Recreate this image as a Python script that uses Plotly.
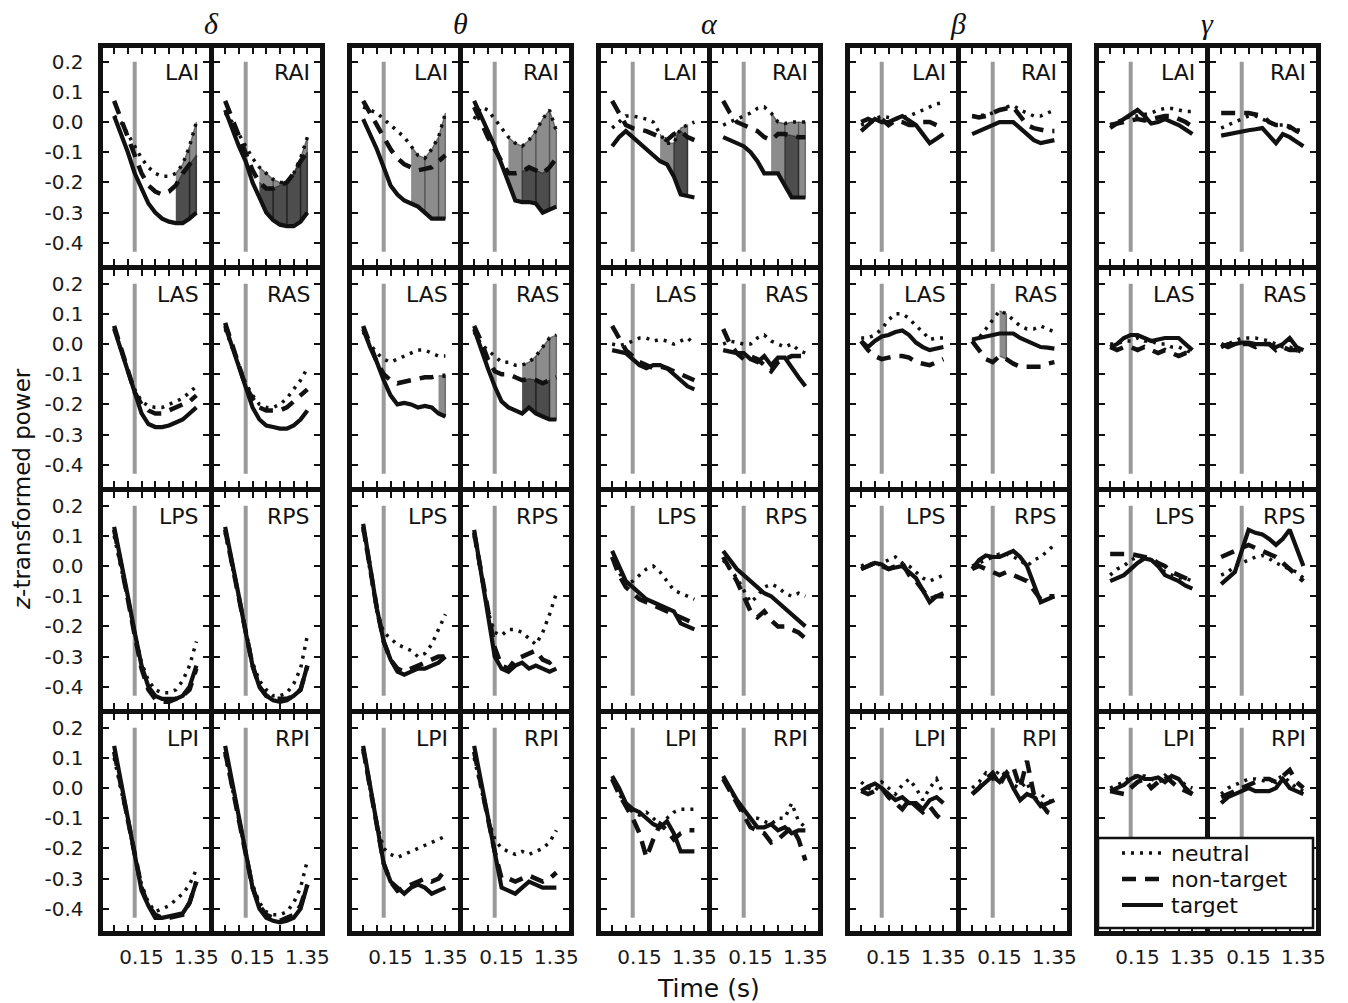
import plotly.graph_objects as go

# ---------------- axes / categories ----------------
TIME = [-0.45, -0.30, -0.15, 0.00, 0.15, 0.30, 0.45, 0.60, 0.75, 0.90, 1.05, 1.20, 1.35]
X_TICKS = [-0.45, -0.15, 0.15, 0.45, 0.75, 1.05, 1.35]
X_TICK_TEXT = ["", "", "0.15", "", "", "", "1.35"]
Y_TICKS = [0.2, 0.1, 0.0, -0.1, -0.2, -0.3, -0.4]
Y_TICK_TEXT = ["0.2", "0.1", "0.0", "-0.1", "-0.2", "-0.3", "-0.4"]
BANDS = ["δ", "θ", "α", "β", "γ"]
REGIONS = ["AI", "AS", "PS", "PI"]
HEMIS = ["L", "R"]
CONDITIONS = ["neutral", "non-target", "target"]
ONSET = 0.0
ONSET_SPAN = [-0.43, 0.2]
X_RANGE = [-0.705, 1.615]
Y_RANGE = [-0.472, 0.247]

# ---------------- delta ----------------
d_LAI_neu = [0.02, 0.00, -0.04, -0.08, -0.12, -0.15, -0.17, -0.18, -0.18, -0.17, -0.14, -0.08, 0.00]
d_LAI_non = [0.07, 0.01, -0.05, -0.12, -0.17, -0.21, -0.23, -0.24, -0.23, -0.21, -0.17, -0.14, -0.11]
d_LAI_tar = [0.02, -0.04, -0.10, -0.17, -0.22, -0.27, -0.30, -0.32, -0.33, -0.335, -0.335, -0.32, -0.30]
d_RAI_neu = [0.03, 0.00, -0.04, -0.08, -0.12, -0.15, -0.17, -0.19, -0.20, -0.20, -0.17, -0.12, -0.05]
d_RAI_non = [0.07, 0.01, -0.05, -0.11, -0.16, -0.20, -0.22, -0.22, -0.21, -0.20, -0.17, -0.13, -0.10]
d_RAI_tar = [0.04, -0.02, -0.08, -0.13, -0.20, -0.25, -0.30, -0.325, -0.34, -0.345, -0.345, -0.33, -0.30]
d_LAS_neu = [0.05, -0.02, -0.09, -0.15, -0.19, -0.205, -0.21, -0.21, -0.20, -0.19, -0.18, -0.16, -0.14]
d_LAS_non = [0.06, -0.01, -0.09, -0.16, -0.20, -0.22, -0.23, -0.23, -0.22, -0.21, -0.20, -0.19, -0.17]
d_LAS_tar = [0.05, -0.02, -0.10, -0.17, -0.23, -0.265, -0.275, -0.275, -0.27, -0.26, -0.25, -0.23, -0.21]
d_RAS_neu = [0.05, -0.01, -0.07, -0.13, -0.17, -0.20, -0.21, -0.21, -0.20, -0.18, -0.15, -0.12, -0.08]
d_RAS_non = [0.07, 0.00, -0.07, -0.14, -0.18, -0.21, -0.22, -0.22, -0.22, -0.21, -0.19, -0.17, -0.15]
d_RAS_tar = [0.06, -0.01, -0.08, -0.15, -0.21, -0.25, -0.27, -0.275, -0.28, -0.28, -0.27, -0.25, -0.22]
d_LPS_neu = [0.10, 0.00, -0.11, -0.22, -0.32, -0.38, -0.41, -0.42, -0.42, -0.41, -0.38, -0.33, -0.25]
d_LPS_non = [0.12, 0.01, -0.11, -0.23, -0.34, -0.41, -0.44, -0.45, -0.45, -0.44, -0.43, -0.41, -0.34]
d_LPS_tar = [0.13, 0.02, -0.10, -0.22, -0.33, -0.40, -0.43, -0.44, -0.44, -0.44, -0.43, -0.40, -0.33]
d_RPS_neu = [0.11, 0.00, -0.11, -0.22, -0.32, -0.38, -0.41, -0.43, -0.43, -0.42, -0.39, -0.34, -0.23]
d_RPS_non = [0.12, 0.01, -0.11, -0.22, -0.33, -0.40, -0.43, -0.44, -0.44, -0.44, -0.43, -0.41, -0.33]
d_RPS_tar = [0.13, 0.02, -0.10, -0.22, -0.33, -0.40, -0.43, -0.445, -0.45, -0.445, -0.43, -0.41, -0.33]
d_LPI_neu = [0.10, 0.00, -0.11, -0.22, -0.32, -0.38, -0.41, -0.40, -0.39, -0.37, -0.35, -0.32, -0.27]
d_LPI_non = [0.12, 0.01, -0.10, -0.22, -0.33, -0.39, -0.42, -0.43, -0.43, -0.425, -0.42, -0.38, -0.31]
d_LPI_tar = [0.14, 0.02, -0.10, -0.22, -0.34, -0.39, -0.43, -0.43, -0.425, -0.42, -0.415, -0.38, -0.31]
d_RPI_neu = [0.11, 0.00, -0.11, -0.22, -0.32, -0.38, -0.41, -0.42, -0.42, -0.41, -0.38, -0.33, -0.24]
d_RPI_non = [0.12, 0.01, -0.10, -0.22, -0.33, -0.39, -0.42, -0.43, -0.44, -0.43, -0.42, -0.39, -0.32]
d_RPI_tar = [0.14, 0.02, -0.10, -0.22, -0.33, -0.40, -0.43, -0.44, -0.445, -0.44, -0.43, -0.40, -0.32]

# ---------------- theta ----------------
t_LAI_neu = [0.05, 0.04, 0.03, 0.01, -0.01, -0.03, -0.05, -0.08, -0.11, -0.12, -0.09, -0.05, 0.03]
t_LAI_non = [0.07, 0.03, -0.01, -0.05, -0.09, -0.12, -0.14, -0.15, -0.16, -0.155, -0.15, -0.13, -0.11]
t_LAI_tar = [0.01, -0.04, -0.09, -0.15, -0.21, -0.24, -0.26, -0.27, -0.28, -0.30, -0.32, -0.32, -0.32]
t_RAI_neu = [0.01, 0.05, 0.04, 0.01, -0.02, -0.05, -0.07, -0.08, -0.06, -0.03, 0.01, 0.04, -0.03]
t_RAI_non = [0.05, 0.00, -0.05, -0.09, -0.13, -0.17, -0.17, -0.165, -0.15, -0.16, -0.17, -0.15, -0.12]
t_RAI_tar = [0.07, 0.02, -0.03, -0.08, -0.14, -0.20, -0.26, -0.265, -0.265, -0.27, -0.30, -0.29, -0.28]
t_LAS_neu = [0.04, 0.00, -0.03, -0.05, -0.06, -0.05, -0.04, -0.03, -0.02, -0.02, -0.03, -0.04, -0.04]
t_LAS_non = [0.06, 0.00, -0.06, -0.10, -0.12, -0.13, -0.125, -0.12, -0.115, -0.11, -0.11, -0.105, -0.105]
t_LAS_tar = [0.05, -0.01, -0.06, -0.12, -0.17, -0.20, -0.195, -0.20, -0.21, -0.205, -0.21, -0.23, -0.24]
t_RAS_neu = [0.04, 0.00, -0.02, -0.04, -0.06, -0.06, -0.07, -0.07, -0.06, -0.04, -0.01, 0.02, 0.03]
t_RAS_non = [0.06, 0.01, -0.05, -0.09, -0.10, -0.10, -0.11, -0.12, -0.115, -0.12, -0.13, -0.12, -0.11]
t_RAS_tar = [0.05, -0.02, -0.08, -0.14, -0.19, -0.21, -0.22, -0.23, -0.21, -0.23, -0.24, -0.25, -0.25]
t_LPS_neu = [0.12, -0.02, -0.15, -0.22, -0.24, -0.26, -0.27, -0.28, -0.30, -0.29, -0.26, -0.21, -0.16]
t_LPS_non = [0.13, -0.01, -0.14, -0.25, -0.31, -0.34, -0.35, -0.34, -0.33, -0.32, -0.31, -0.30, -0.30]
t_LPS_tar = [0.14, 0.00, -0.14, -0.25, -0.31, -0.35, -0.36, -0.35, -0.34, -0.34, -0.33, -0.32, -0.30]
t_RPS_neu = [0.10, -0.03, -0.15, -0.22, -0.23, -0.21, -0.21, -0.22, -0.24, -0.26, -0.22, -0.16, -0.09]
t_RPS_non = [0.11, -0.02, -0.16, -0.27, -0.33, -0.34, -0.31, -0.30, -0.29, -0.28, -0.31, -0.32, -0.30]
t_RPS_tar = [0.12, -0.02, -0.18, -0.30, -0.34, -0.35, -0.33, -0.32, -0.34, -0.33, -0.34, -0.35, -0.34]
t_LPI_neu = [0.12, 0.00, -0.12, -0.20, -0.22, -0.23, -0.22, -0.21, -0.20, -0.19, -0.18, -0.17, -0.16]
t_LPI_non = [0.13, 0.00, -0.13, -0.25, -0.31, -0.34, -0.33, -0.32, -0.31, -0.30, -0.31, -0.30, -0.27]
t_LPI_tar = [0.14, 0.01, -0.12, -0.25, -0.31, -0.33, -0.35, -0.33, -0.32, -0.33, -0.35, -0.34, -0.33]
t_RPI_neu = [0.10, 0.00, -0.10, -0.17, -0.20, -0.21, -0.22, -0.21, -0.22, -0.21, -0.20, -0.18, -0.14]
t_RPI_non = [0.12, 0.01, -0.10, -0.21, -0.30, -0.30, -0.31, -0.30, -0.29, -0.30, -0.31, -0.30, -0.28]
t_RPI_tar = [0.14, 0.02, -0.10, -0.22, -0.33, -0.34, -0.35, -0.33, -0.31, -0.32, -0.33, -0.33, -0.33]

# ---------------- alpha ----------------
a_LAI_neu = [-0.02, 0.00, 0.02, 0.02, 0.015, 0.01, 0.00, -0.04, -0.07, -0.07, -0.02, -0.01, 0.00]
a_LAI_non = [0.07, 0.03, -0.01, -0.02, -0.025, -0.03, -0.04, -0.05, -0.06, -0.04, -0.03, -0.05, -0.06]
a_LAI_tar = [-0.08, -0.05, -0.03, -0.05, -0.07, -0.09, -0.11, -0.13, -0.14, -0.18, -0.24, -0.245, -0.25]
a_RAI_neu = [-0.01, 0.00, 0.01, 0.02, 0.03, 0.045, 0.05, 0.03, 0.00, -0.005, 0.00, 0.00, 0.00]
a_RAI_non = [0.07, 0.03, 0.00, -0.01, -0.02, -0.03, -0.05, -0.06, -0.04, -0.04, -0.045, -0.05, -0.05]
a_RAI_tar = [-0.05, -0.06, -0.07, -0.08, -0.10, -0.13, -0.17, -0.17, -0.17, -0.21, -0.25, -0.25, -0.25]
a_LAS_neu = [0.00, -0.005, 0.00, 0.01, 0.02, 0.02, 0.01, 0.015, 0.01, 0.00, 0.01, 0.02, 0.00]
a_LAS_non = [0.06, 0.02, -0.02, -0.04, -0.06, -0.07, -0.08, -0.075, -0.08, -0.09, -0.10, -0.11, -0.12]
a_LAS_tar = [-0.02, -0.025, -0.03, -0.05, -0.07, -0.08, -0.07, -0.07, -0.08, -0.10, -0.12, -0.14, -0.15]
a_RAS_neu = [0.00, 0.01, 0.005, 0.00, 0.00, 0.02, 0.03, 0.01, 0.00, -0.01, 0.00, -0.02, -0.03]
a_RAS_non = [0.05, 0.00, -0.03, -0.05, -0.04, -0.05, -0.07, -0.09, -0.06, -0.05, -0.04, -0.04, -0.04]
a_RAS_tar = [-0.02, -0.025, -0.03, -0.03, -0.05, -0.06, -0.04, -0.07, -0.045, -0.045, -0.08, -0.11, -0.14]
a_LPS_neu = [0.03, -0.02, -0.06, -0.05, -0.03, -0.01, 0.00, -0.02, -0.05, -0.08, -0.09, -0.10, -0.11]
a_LPS_non = [0.03, -0.03, -0.07, -0.09, -0.11, -0.12, -0.13, -0.14, -0.15, -0.16, -0.17, -0.18, -0.19]
a_LPS_tar = [0.05, 0.00, -0.05, -0.07, -0.09, -0.11, -0.12, -0.13, -0.14, -0.15, -0.19, -0.20, -0.21]
a_RPS_neu = [0.02, -0.01, -0.04, -0.08, -0.12, -0.10, -0.07, -0.06, -0.07, -0.09, -0.10, -0.09, -0.10]
a_RPS_non = [0.03, -0.01, -0.05, -0.10, -0.15, -0.17, -0.15, -0.18, -0.20, -0.20, -0.21, -0.22, -0.24]
a_RPS_tar = [0.05, 0.02, -0.01, -0.03, -0.05, -0.07, -0.09, -0.10, -0.12, -0.14, -0.16, -0.18, -0.20]
a_LPI_neu = [0.03, -0.02, -0.05, -0.08, -0.09, -0.08, -0.10, -0.12, -0.10, -0.08, -0.07, -0.07, -0.07]
a_LPI_non = [0.03, -0.02, -0.06, -0.10, -0.15, -0.23, -0.17, -0.12, -0.14, -0.17, -0.15, -0.14, -0.14]
a_LPI_tar = [0.04, 0.00, -0.05, -0.07, -0.08, -0.10, -0.12, -0.13, -0.11, -0.15, -0.21, -0.21, -0.21]
a_RPI_neu = [0.03, 0.00, -0.05, -0.08, -0.10, -0.10, -0.11, -0.12, -0.10, -0.10, -0.05, -0.11, -0.13]
a_RPI_non = [0.03, -0.01, -0.05, -0.09, -0.13, -0.14, -0.15, -0.18, -0.17, -0.15, -0.13, -0.17, -0.24]
a_RPI_tar = [0.04, 0.00, -0.04, -0.07, -0.10, -0.13, -0.13, -0.12, -0.14, -0.13, -0.15, -0.14, -0.14]

# ---------------- beta ----------------
b_LAI_neu = [-0.01, 0.00, 0.01, 0.02, 0.015, 0.01, 0.015, 0.02, 0.03, 0.04, 0.05, 0.06, 0.065]
b_LAI_non = [0.00, 0.01, 0.00, 0.01, -0.01, 0.005, 0.00, -0.01, -0.01, 0.00, 0.00, -0.01, -0.02]
b_LAI_tar = [-0.03, -0.01, 0.01, 0.00, 0.00, 0.01, 0.02, 0.005, -0.01, -0.04, -0.07, -0.055, -0.04]
b_RAI_neu = [0.02, 0.02, 0.025, 0.03, 0.04, 0.05, 0.055, 0.04, 0.03, 0.02, 0.02, 0.03, 0.04]
b_RAI_non = [0.02, 0.015, 0.02, 0.03, 0.04, 0.045, 0.05, 0.02, -0.01, -0.02, -0.025, -0.03, -0.03]
b_RAI_tar = [-0.04, -0.03, -0.02, -0.01, 0.00, 0.00, 0.00, -0.02, -0.04, -0.06, -0.07, -0.065, -0.06]
b_LAS_neu = [0.02, 0.02, 0.03, 0.05, 0.08, 0.10, 0.10, 0.085, 0.06, 0.04, 0.015, 0.02, 0.02]
b_LAS_non = [0.01, -0.02, -0.04, -0.05, -0.045, -0.04, -0.04, -0.045, -0.06, -0.065, -0.07, -0.06, -0.05]
b_LAS_tar = [0.01, -0.01, 0.01, 0.025, 0.03, 0.04, 0.045, 0.03, 0.005, -0.01, -0.02, -0.015, -0.01]
b_RAS_neu = [0.01, 0.02, 0.05, 0.08, 0.11, 0.10, 0.08, 0.06, 0.05, 0.05, 0.06, 0.05, 0.04]
b_RAS_non = [0.01, -0.02, -0.05, -0.06, -0.04, -0.05, -0.065, -0.075, -0.075, -0.075, -0.075, -0.065, -0.06]
b_RAS_tar = [0.015, 0.02, 0.025, 0.03, 0.035, 0.035, 0.035, 0.02, 0.01, 0.00, -0.01, -0.012, -0.015]
b_LPS_neu = [0.00, 0.01, 0.00, 0.01, 0.02, 0.03, 0.01, 0.00, -0.02, -0.04, -0.05, -0.04, -0.03]
b_LPS_non = [-0.01, 0.00, 0.01, 0.00, -0.01, 0.00, 0.01, -0.03, -0.05, -0.08, -0.11, -0.10, -0.10]
b_LPS_tar = [-0.01, 0.00, 0.01, 0.005, -0.01, -0.005, 0.00, -0.02, -0.04, -0.08, -0.12, -0.10, -0.09]
b_RPS_neu = [0.00, 0.01, 0.02, 0.03, 0.04, 0.04, 0.03, 0.02, 0.00, 0.02, 0.03, 0.05, 0.07]
b_RPS_non = [-0.01, 0.00, -0.01, -0.02, -0.03, -0.02, -0.03, -0.04, -0.05, -0.08, -0.11, -0.10, -0.10]
b_RPS_tar = [-0.01, 0.02, 0.035, 0.03, 0.03, 0.04, 0.05, 0.03, 0.00, -0.06, -0.12, -0.11, -0.10]
b_LPI_neu = [0.02, 0.00, -0.01, 0.02, 0.00, -0.02, 0.01, 0.03, 0.00, -0.04, 0.00, 0.03, -0.02]
b_LPI_non = [-0.01, -0.02, -0.01, 0.00, -0.03, -0.05, -0.07, -0.04, -0.06, -0.08, -0.06, -0.09, -0.11]
b_LPI_tar = [-0.01, 0.005, 0.015, 0.00, -0.02, -0.04, -0.03, -0.05, -0.05, -0.07, -0.04, -0.03, -0.05]
b_RPI_neu = [0.00, 0.02, 0.05, 0.03, 0.06, 0.04, 0.01, 0.00, 0.02, -0.04, -0.02, -0.04, -0.05]
b_RPI_non = [-0.02, 0.00, 0.03, 0.05, 0.01, 0.05, 0.07, 0.00, 0.09, -0.02, -0.05, -0.08, -0.09]
b_RPI_tar = [-0.02, 0.00, 0.02, 0.04, 0.02, 0.05, 0.00, -0.04, -0.02, -0.03, -0.06, -0.05, -0.04]

# ---------------- gamma ----------------
g_LAI_neu = [-0.01, 0.00, 0.01, 0.02, 0.02, 0.025, 0.03, 0.04, 0.045, 0.045, 0.04, 0.035, 0.035]
g_LAI_non = [-0.01, -0.005, 0.00, 0.005, 0.01, 0.005, 0.01, 0.015, 0.02, 0.02, 0.01, 0.00, -0.015]
g_LAI_tar = [-0.02, -0.005, 0.01, 0.025, 0.04, 0.02, -0.005, 0.00, 0.01, 0.00, -0.01, -0.025, -0.04]
g_RAI_neu = [-0.02, -0.01, 0.00, 0.01, 0.02, 0.02, 0.01, 0.00, -0.01, -0.01, -0.02, -0.025, -0.03]
g_RAI_non = [0.03, 0.03, 0.03, 0.03, 0.03, 0.025, 0.02, 0.00, -0.01, -0.01, -0.015, -0.03, -0.04]
g_RAI_tar = [-0.045, -0.04, -0.035, -0.03, -0.027, -0.024, -0.02, -0.045, -0.07, -0.04, -0.05, -0.065, -0.08]
g_LAS_neu = [0.00, 0.00, 0.01, 0.01, 0.02, 0.01, 0.01, 0.00, 0.00, -0.01, -0.01, -0.02, -0.03]
g_LAS_non = [-0.01, -0.02, -0.01, -0.01, -0.02, -0.01, -0.02, -0.03, -0.02, -0.03, -0.04, -0.03, -0.03]
g_LAS_tar = [-0.01, 0.00, 0.02, 0.03, 0.03, 0.02, 0.01, 0.015, 0.02, 0.02, 0.02, 0.00, -0.02]
g_RAS_neu = [-0.01, 0.00, 0.01, 0.02, 0.02, 0.02, 0.015, 0.01, 0.00, -0.01, -0.01, -0.02, -0.03]
g_RAS_non = [0.00, -0.01, 0.00, 0.00, 0.00, -0.01, 0.00, 0.00, -0.02, -0.01, -0.02, -0.02, -0.03]
g_RAS_tar = [-0.01, 0.00, 0.00, 0.005, 0.005, 0.00, 0.00, 0.00, -0.01, 0.00, 0.02, -0.01, -0.02]
g_LPS_neu = [-0.03, -0.01, 0.00, 0.02, 0.03, 0.03, 0.02, 0.00, -0.02, -0.03, -0.04, -0.04, -0.05]
g_LPS_non = [0.04, 0.04, 0.04, 0.04, 0.035, 0.03, 0.025, 0.01, 0.00, -0.02, -0.03, -0.04, -0.05]
g_LPS_tar = [-0.05, -0.04, -0.03, -0.01, 0.01, 0.025, 0.02, 0.00, -0.03, -0.04, -0.05, -0.065, -0.075]
g_RPS_neu = [-0.03, -0.02, 0.00, 0.01, 0.02, 0.03, 0.035, 0.025, 0.01, 0.00, -0.01, -0.02, -0.04]
g_RPS_non = [0.03, 0.04, 0.05, 0.06, 0.07, 0.06, 0.05, 0.04, 0.03, 0.01, -0.01, -0.03, -0.05]
g_RPS_tar = [-0.06, -0.04, -0.02, 0.05, 0.12, 0.11, 0.105, 0.09, 0.07, 0.09, 0.12, 0.06, 0.00]
g_LPI_neu = [0.00, 0.01, 0.02, 0.04, 0.04, 0.04, 0.03, 0.02, 0.03, 0.04, 0.03, 0.01, 0.00]
g_LPI_non = [-0.01, -0.015, -0.02, 0.00, 0.02, 0.03, 0.00, 0.02, 0.04, 0.02, 0.00, -0.01, -0.02]
g_LPI_tar = [-0.01, 0.00, 0.01, 0.03, 0.04, 0.03, 0.03, 0.035, 0.02, 0.04, 0.03, 0.00, -0.02]
g_RPI_neu = [-0.02, 0.00, 0.01, 0.02, 0.03, 0.03, 0.025, 0.02, 0.03, 0.04, 0.02, 0.00, -0.01]
g_RPI_non = [-0.03, -0.02, -0.01, 0.00, 0.01, 0.02, 0.03, 0.03, 0.02, 0.04, 0.06, 0.02, 0.00]
g_RPI_tar = [-0.05, -0.03, -0.02, -0.01, 0.00, -0.01, -0.01, -0.01, 0.00, 0.03, 0.00, -0.01, -0.02]

# significant windows (index ranges into TIME) for pairwise comparisons
SIG = {
    ("δ", "LAI"): [("neutral", "target", [(9, 11), (11, 12)]), ("non-target", "target", [(9, 11), (11, 12)])],
    ("δ", "RAI"): [("neutral", "target", [(5, 7), (7, 9), (9, 11), (11, 12)]),
                   ("non-target", "target", [(5, 7), (7, 9), (9, 11), (11, 12)])],
    ("θ", "LAI"): [("neutral", "target", [(7, 9), (9, 11), (11, 12)])],
    ("θ", "RAI"): [("neutral", "target", [(5, 7), (7, 9), (9, 11), (11, 12)]),
                   ("non-target", "target", [(7, 9), (9, 11)])],
    ("θ", "LAS"): [("non-target", "target", [(11, 12)])],
    ("θ", "RAS"): [("neutral", "target", [(7, 9), (9, 11), (11, 12)]),
                   ("non-target", "target", [(7, 9), (9, 11)])],
    ("α", "LAI"): [("neutral", "target", [(7, 9), (9, 11)]), ("non-target", "target", [(9, 11)])],
    ("α", "RAI"): [("neutral", "target", [(7, 9), (9, 11), (11, 12)]), ("non-target", "target", [(9, 11)])],
    ("β", "RAS"): [("neutral", "non-target", [(4, 5)])],
}

PREFIX = {"δ": "d", "θ": "t", "α": "a", "β": "b", "γ": "g"}
G = globals()


def series(band, label, cond):
    suf = {"neutral": "neu", "non-target": "non", "target": "tar"}[cond]
    return G[f"{PREFIX[band]}_{label}_{suf}"]


# ---------------- figure geometry ----------------
# the page body has an 8px margin, so the figure is 8px smaller than the window
PAGE_OFF = 8
W, H = 1348 - PAGE_OFF, 1003 - PAGE_OFF
PLOT_LEFT, PLOT_TOP, PLOT_RIGHT, PLOT_BOTTOM = 100, 45, 1318, 933   # in window pixels
ML, MT = PLOT_LEFT - PAGE_OFF, PLOT_TOP - PAGE_OFF
MR, MB = 1348 - PLOT_RIGHT, 1003 - PLOT_BOTTOM
PW = PLOT_RIGHT - PLOT_LEFT
PH = PLOT_BOTTOM - PLOT_TOP
SPINE = 5                 # spine width; plotly draws it just outside the data area
PANEL_STEP = 111          # spine-to-spine width of one panel
PAIR_STEP = 249
ROW_STEP = 222

# legend box geometry (window pixels)
LEG_BOX = (1098, 838, 1313, 928)
LEG_ROW_Y = [853, 879, 905]
LEG_SAMPLE_X = (1122, 1163)
LEG_TEXT_X = 1169


def px_x(px):
    return (px - PLOT_LEFT) / PW


def px_y(py):
    return (PLOT_BOTTOM - py) / PH


STYLE = {
    "neutral": dict(color="#111111", width=3.5, dash="3px,6px"),
    "non-target": dict(color="#111111", width=4.5, dash="14px,9px"),
    "target": dict(color="#111111", width=4.2, dash="solid"),
}
FONT = "DejaVu Sans"

fig = go.Figure()
layout = {}
annotations = []
shapes = []

for r, region in enumerate(REGIONS):
    for b, band in enumerate(BANDS):
        for h, hemi in enumerate(HEMIS):
            col = b * 2 + h
            n = r * 10 + col + 1
            xs = "x" if n == 1 else f"x{n}"
            ys = "y" if n == 1 else f"y{n}"
            xk = "xaxis" if n == 1 else f"xaxis{n}"
            yk = "yaxis" if n == 1 else f"yaxis{n}"
            sp_left = PLOT_LEFT + b * PAIR_STEP + h * PANEL_STEP
            dx0, dx1 = sp_left + SPINE / 2, sp_left + PANEL_STEP - SPINE / 2
            sp_top = PLOT_TOP + r * ROW_STEP
            dy0, dy1 = sp_top + SPINE / 2, sp_top + ROW_STEP - SPINE / 2
            common = dict(showline=True, linewidth=SPINE, linecolor="#111111", mirror="allticks",
                          ticks="inside", ticklen=6, tickwidth=1.5, tickcolor="#111111",
                          showgrid=False, zeroline=False, tickfont=dict(family=FONT, size=20, color="#1a1a1a"))
            layout[xk] = dict(domain=[px_x(dx0), px_x(dx1)], anchor=ys, range=X_RANGE,
                              tickmode="array", tickvals=X_TICKS, ticktext=X_TICK_TEXT,
                              showticklabels=(r == 3), ticklabelstandoff=4, **common)
            layout[yk] = dict(domain=[px_y(dy1), px_y(dy0)], anchor=xs, range=Y_RANGE,
                              tickmode="array", tickvals=Y_TICKS, ticktext=Y_TICK_TEXT,
                              showticklabels=(col == 0), ticklabelstandoff=10, **common)
            label = hemi + region
            # onset marker
            fig.add_trace(go.Scatter(x=[ONSET, ONSET], y=ONSET_SPAN, xaxis=xs, yaxis=ys, mode="lines",
                                     line=dict(color="#9a9a9a", width=4), showlegend=False, hoverinfo="skip"))
            # significance shading
            for ca, cb, wins in SIG.get((band, label), []):
                sa, sb = series(band, label, ca), series(band, label, cb)
                for i0, i1 in wins:
                    px = TIME[i0:i1 + 1] + TIME[i0:i1 + 1][::-1]
                    py = sa[i0:i1 + 1] + sb[i0:i1 + 1][::-1]
                    fig.add_trace(go.Scatter(x=px, y=py, xaxis=xs, yaxis=ys, mode="lines", fill="toself",
                                             fillcolor="rgba(0,0,0,0.45)",
                                             line=dict(color="rgba(30,30,30,0.55)", width=1.3),
                                             showlegend=False, hoverinfo="skip"))
            for cond in CONDITIONS:
                fig.add_trace(go.Scatter(x=TIME, y=series(band, label, cond), xaxis=xs, yaxis=ys,
                                         mode="lines", name=cond, line=STYLE[cond],
                                         showlegend=False, hoverinfo="skip"))
            annotations.append(dict(text=label, xref=f"{xs} domain", yref=f"{ys} domain",
                                    x=0.93, y=0.885, xanchor="right", yanchor="middle", showarrow=False,
                                    font=dict(family=FONT, size=22, color="#111111")))

for b, band in enumerate(BANDS):
    annotations.append(dict(text=f"<i>{band}</i>", xref="paper", yref="paper",
                            x=px_x(PLOT_LEFT + b * PAIR_STEP + PANEL_STEP), y=px_y(24),
                            xanchor="center", yanchor="middle", showarrow=False,
                            font=dict(family="Liberation Serif", size=30, color="#111111")))

annotations.append(dict(text="<i>z</i>-transformed power", xref="paper", yref="paper",
                        x=px_x(22), y=px_y(489), textangle=-90, xanchor="center", yanchor="middle",
                        showarrow=False, font=dict(family=FONT, size=23, color="#111111")))
annotations.append(dict(text="Time (s)", xref="paper", yref="paper",
                        x=px_x(708), y=px_y(988), xanchor="center", yanchor="middle",
                        showarrow=False, font=dict(family=FONT, size=25, color="#111111")))

# legend (box, line samples, labels) drawn on top of the last row of gamma panels
shapes.append(dict(type="rect", xref="paper", yref="paper", layer="above",
                   x0=px_x(LEG_BOX[0]), x1=px_x(LEG_BOX[2]), y0=px_y(LEG_BOX[3]), y1=px_y(LEG_BOX[1]),
                   fillcolor="white", line=dict(color="#111111", width=2.5)))
for cond, yrow in zip(CONDITIONS, LEG_ROW_Y):
    st = STYLE[cond]
    shapes.append(dict(type="line", xref="paper", yref="paper", layer="above",
                       x0=px_x(LEG_SAMPLE_X[0]), x1=px_x(LEG_SAMPLE_X[1]), y0=px_y(yrow), y1=px_y(yrow),
                       line=dict(color=st["color"], width=st["width"], dash=st["dash"])))
    annotations.append(dict(text=cond, xref="paper", yref="paper", x=px_x(LEG_TEXT_X), y=px_y(yrow),
                            xanchor="left", yanchor="middle", showarrow=False,
                            font=dict(family=FONT, size=22, color="#111111")))

fig.update_layout(
    width=W, height=H,
    margin=dict(l=ML, r=MR, t=MT, b=MB),
    paper_bgcolor="white", plot_bgcolor="white",
    annotations=annotations,
    shapes=shapes,
    showlegend=False,
    **layout,
)

fig.write_html("out.html")
